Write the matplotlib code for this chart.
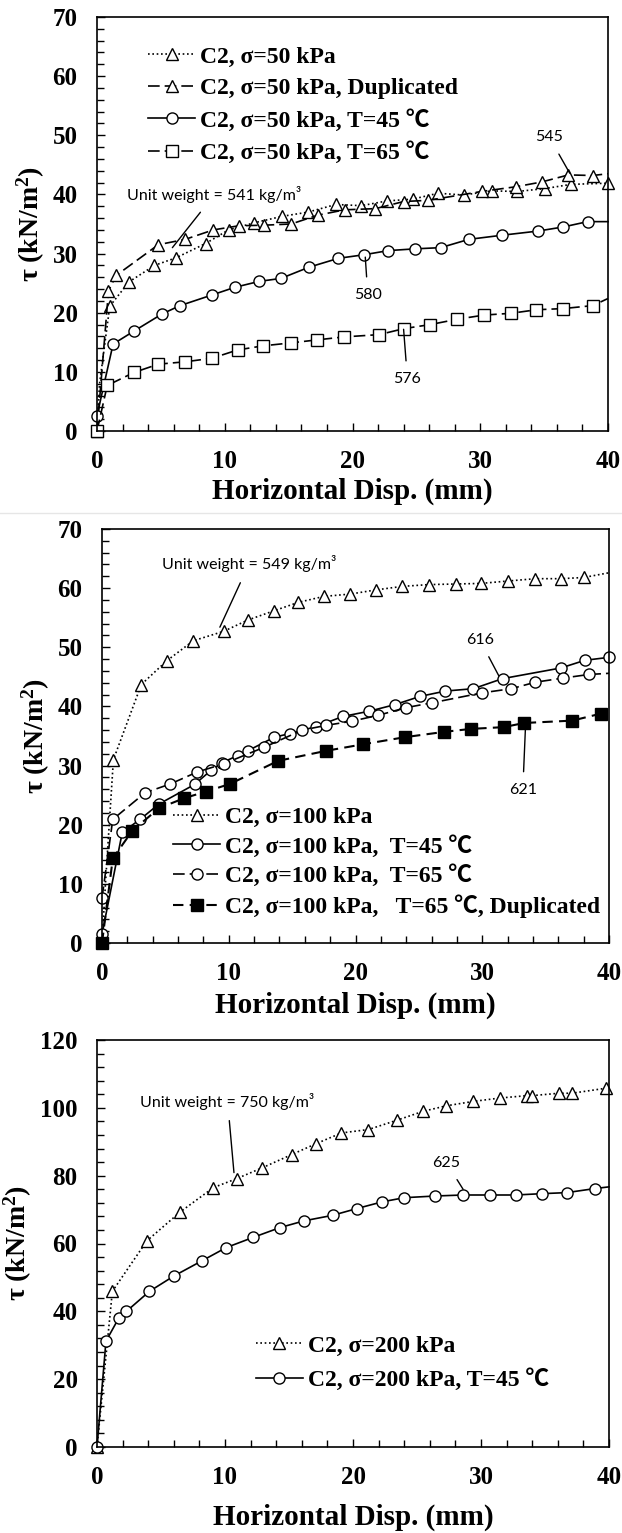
import numpy as np
import matplotlib.pyplot as plt
from matplotlib.ticker import MultipleLocator

plt.rcParams['font.family'] = ['Liberation Serif', 'Noto Sans CJK JP', 'DejaVu Serif']
plt.rcParams['mathtext.fontset'] = 'custom'
plt.rcParams['mathtext.rm'] = 'Liberation Serif'
plt.rcParams['mathtext.bf'] = 'Liberation Serif:bold'

# ---- panel 1 : sigma = 50 kPa
p1_a_x = [0, 0.2, 1.0, 2.5, 4.5, 6.2, 8.5, 10.3, 12.3, 14.5, 16.5, 18.7, 20.7, 22.7, 24.7, 26.7, 28.7, 30.9, 32.9, 35.1, 37.1, 40.0]
p1_a_y = [0, 8, 21.1, 25.2, 28.0, 29.3, 31.7, 34.0, 35.2, 36.3, 37.0, 38.3, 38.1, 38.9, 39.2, 40.2, 39.9, 40.6, 40.5, 41.0, 41.7, 41.9]
p1_b_x = [0, 0.9, 1.5, 4.8, 6.9, 9.1, 11.1, 13.1, 15.2, 17.3, 19.4, 21.8, 24.0, 25.9, 30.1, 32.8, 34.8, 36.9, 38.8, 40.0]
p1_b_y = [0, 23.7, 26.3, 31.5, 32.4, 34.0, 34.7, 34.8, 35.0, 36.5, 37.4, 37.6, 38.8, 39.0, 40.5, 41.3, 42.1, 43.3, 43.2, 43.5]
p1_c_x = [0, 1.26, 2.9, 5.1, 6.5, 9.0, 10.8, 12.7, 14.4, 16.6, 18.9, 20.9, 22.8, 24.9, 26.9, 29.1, 31.7, 34.5, 36.5, 38.4, 40.0]
p1_c_y = [2.6, 14.7, 16.9, 19.8, 21.2, 23.0, 24.3, 25.3, 25.8, 27.7, 29.2, 29.8, 30.5, 30.8, 31.0, 32.4, 33.1, 33.8, 34.5, 35.4, 35.4]
p1_d_x = [0, 0.8, 2.9, 4.8, 6.9, 9.0, 11.0, 13.0, 15.2, 17.2, 19.3, 22.1, 24.0, 26.1, 28.2, 30.3, 32.4, 34.4, 36.5, 38.8, 40.0]
p1_d_y = [0, 7.7, 9.9, 11.3, 11.7, 12.3, 13.7, 14.4, 14.9, 15.4, 15.9, 16.3, 17.3, 18.0, 18.9, 19.6, 19.9, 20.5, 20.7, 21.2, 22.4]

# ---- panel 2 : sigma = 100 kPa
p2_a_x = [0, 0.3, 0.9, 3.1, 5.1, 7.2, 9.6, 11.5, 13.6, 15.5, 17.5, 19.6, 21.6, 23.7, 25.8, 27.9, 29.9, 32.0, 34.2, 36.2, 38.0, 40.0]
p2_a_y = [0, 11, 31.0, 43.7, 47.7, 51.1, 52.7, 54.6, 56.2, 57.6, 58.6, 59.0, 59.7, 60.3, 60.6, 60.7, 60.8, 61.2, 61.6, 61.6, 61.8, 62.6]
p2_b_x = [0, 1.6, 3.0, 4.5, 7.3, 8.6, 9.5, 10.7, 11.5, 13.6, 14.8, 16.9, 19.0, 21.1, 23.1, 25.1, 27.1, 29.3, 31.6, 36.2, 38.1, 40.0]
p2_b_y = [1.5, 18.7, 20.9, 23.5, 26.8, 29.2, 30.5, 31.7, 32.5, 34.8, 35.4, 36.6, 38.3, 39.2, 40.3, 41.7, 42.6, 43.0, 44.7, 46.5, 47.8, 48.3]
p2_c_x = [0, 0.85, 3.4, 5.4, 7.5, 9.6, 12.8, 15.8, 17.7, 19.7, 21.8, 24.0, 26.0, 30.0, 32.3, 34.2, 36.4, 38.4, 40.0]
p2_c_y = [7.6, 20.9, 25.4, 26.9, 28.9, 30.3, 33.1, 36.0, 36.8, 37.5, 38.5, 39.8, 40.6, 42.3, 43.0, 44.1, 44.8, 45.4, 45.6]
p2_d_x = [0, 0.85, 2.4, 4.5, 6.5, 8.2, 10.1, 13.9, 17.7, 20.6, 23.9, 27.0, 29.1, 31.7, 33.3, 37.1, 39.4]
p2_d_y = [0, 14.3, 19.0, 22.8, 24.5, 25.6, 26.9, 30.8, 32.5, 33.6, 34.8, 35.7, 36.2, 36.5, 37.2, 37.6, 38.8]

# ---- panel 3 : sigma = 200 kPa
p3_a_x = [0, 1.2, 3.9, 6.5, 9.1, 10.9, 12.9, 15.2, 17.1, 19.1, 21.2, 23.4, 25.5, 27.3, 29.4, 31.5, 33.6, 34.0, 36.1, 37.1, 39.8]
p3_a_y = [0, 45.9, 60.8, 69.3, 76.5, 79.1, 82.3, 86.2, 89.4, 92.6, 93.6, 96.3, 99.0, 100.6, 101.9, 102.9, 103.6, 103.6, 104.3, 104.3, 105.8]
p3_b_x = [0, 0.7, 1.7, 2.3, 4.1, 6.0, 8.2, 10.1, 12.2, 14.3, 16.2, 18.4, 20.3, 22.3, 24.0, 26.4, 28.6, 30.7, 32.7, 34.8, 36.7, 38.9, 40.0]
p3_b_y = [0, 31.2, 38.0, 40.0, 45.9, 50.4, 54.9, 58.8, 61.8, 64.7, 66.7, 68.3, 70.3, 72.3, 73.5, 74.0, 74.3, 74.3, 74.3, 74.7, 75.0, 76.2, 76.7]

W, H = 622, 1533
fig = plt.figure(figsize=(W / 100, H / 100), dpi=100)


def px_axes(x0, x1, y0, y1):
    return fig.add_axes([x0 / W, 1 - y1 / H, (x1 - x0) / W, (y1 - y0) / H])


ax1 = px_axes(97, 608, 17, 431)
ax2 = px_axes(102, 609, 529, 943)
ax3 = px_axes(97, 609, 1040, 1447)

mk = dict(color='black', mfc='white', mec='black', ms=8, mew=1.0, lw=1.2, clip_on=False)
dot = (0, (1, 1.6))
dash = (0, (7, 3))
ann_font = dict(family='Lato', fontsize=11.5)


def style(ax, ymax, ymaj, ymin, xlab_y):
    ax.set_xlim(0, 40)
    ax.set_ylim(0, ymax)
    ax.xaxis.set_major_locator(MultipleLocator(10))
    ax.xaxis.set_minor_locator(MultipleLocator(2))
    ax.yaxis.set_major_locator(MultipleLocator(ymaj))
    ax.yaxis.set_minor_locator(MultipleLocator(ymin))
    ax.tick_params(which='both', direction='in', top=False, right=False, width=1.0)
    ax.tick_params(which='major', length=6, labelsize=18, pad=14)
    ax.tick_params(which='minor', length=5)
    for lab in ax.get_xticklabels() + ax.get_yticklabels():
        lab.set_fontweight('bold')
    for s in ax.spines.values():
        s.set_linewidth(1.2)
    ax.set_xlabel('Horizontal Disp. (mm)', fontsize=21, fontweight='bold')
    ax.set_ylabel(r'τ (kN/m$\mathbf{^2}$)', fontsize=20, fontweight='bold')
    ax.xaxis.label.set_va('center')
    ax.xaxis.set_label_coords(0.5, xlab_y)


def note(ax, text, xy, xytext):
    ax.annotate(text, xy=xy, xytext=xytext, ha='center', va='center',
                arrowprops=dict(arrowstyle='-', color='black', lw=1.0, shrinkA=6, shrinkB=0),
                **ann_font)


leg_kw = dict(loc='upper left', frameon=False, prop=dict(weight='bold', size=17),
              handlelength=2.0, handletextpad=0.2, borderpad=0, borderaxespad=0)

# panel 1
style(ax1, 70, 10, 2, -0.145)
ax1.plot(p1_a_x, p1_a_y, ls=dot, marker='^', markevery=list(range(2, len(p1_a_x))), label='C2, σ=50 kPa', **mk)
ax1.plot(p1_b_x, p1_b_y, ls=dash, marker='^', markevery=list(range(0, len(p1_b_x) - 1)), label='C2, σ=50 kPa, Duplicated', **mk)
ax1.plot(p1_c_x, p1_c_y, ls='-', marker='o', markevery=list(range(0, len(p1_c_x) - 1)), label='C2, σ=50 kPa, T=45 ℃', **mk)
ax1.plot(p1_d_x, p1_d_y, ls=dash, marker='s', markevery=list(range(0, len(p1_d_x) - 1)), label='C2, σ=50 kPa, T=65 ℃', **mk)
ax1.legend(bbox_to_anchor=(0.1, 0.93), labelspacing=0.42, **leg_kw)
note(ax1, 'Unit weight = 541 kg/m³', (5.9, 31.0), (9.2, 40.0))
note(ax1, '545', (37.0, 43.6), (35.4, 49.7))
note(ax1, '580', (21.0, 29.4), (21.2, 23.0))
note(ax1, '576', (24.0, 17.2), (24.3, 8.8))

# panel 2
style(ax2, 70, 10, 2, -0.15)
ax2.plot(p2_a_x, p2_a_y, ls=dot, marker='^', markevery=list(range(2, len(p2_a_x) - 1)), label='C2, σ=100 kPa', **mk)
ax2.plot(p2_b_x, p2_b_y, ls='-', marker='o', label='C2, σ=100 kPa,  T=45 ℃', **mk)
ax2.plot(p2_c_x, p2_c_y, ls=dash, marker='o', markevery=list(range(0, len(p2_c_x) - 1)), label='C2, σ=100 kPa,  T=65 ℃', **mk)
ax2.plot(p2_d_x, p2_d_y, ls=(0, (5, 3)), marker='s', color='black', mfc='black', mec='black',
         ms=8, lw=1.5, clip_on=False, label='C2, σ=100 kPa,   T=65 ℃, Duplicated')
ax2.legend(bbox_to_anchor=(0.14, 0.33), labelspacing=0.3, **leg_kw)
note(ax2, 'Unit weight = 549 kg/m³', (9.3, 53.4), (11.6, 64.1))
note(ax2, '616', (31.3, 45.2), (29.8, 51.3))
note(ax2, '621', (33.4, 36.0), (33.2, 25.9))

# panel 3
style(ax3, 120, 20, 4, -0.172)
ax3.plot(p3_a_x, p3_a_y, ls=dot, marker='^', label='C2, σ=200 kPa', **mk)
ax3.plot(p3_b_x, p3_b_y, ls='-', marker='o', markevery=list(range(0, len(p3_b_x) - 1)), label='C2, σ=200 kPa, T=45 ℃', **mk)
ax3.legend(bbox_to_anchor=(0.31, 0.275), labelspacing=0.5, **leg_kw)
note(ax3, 'Unit weight = 750 kg/m³', (10.7, 80.9), (10.2, 102.0))
note(ax3, '625', (28.6, 76.0), (27.3, 83.8))

# thin separator between the first two panels
fig.add_artist(plt.Line2D([0, 1], [1 - 513 / H, 1 - 513 / H], color='#e6e6e6', lw=1.0))

fig.savefig('out.png', dpi=100)
